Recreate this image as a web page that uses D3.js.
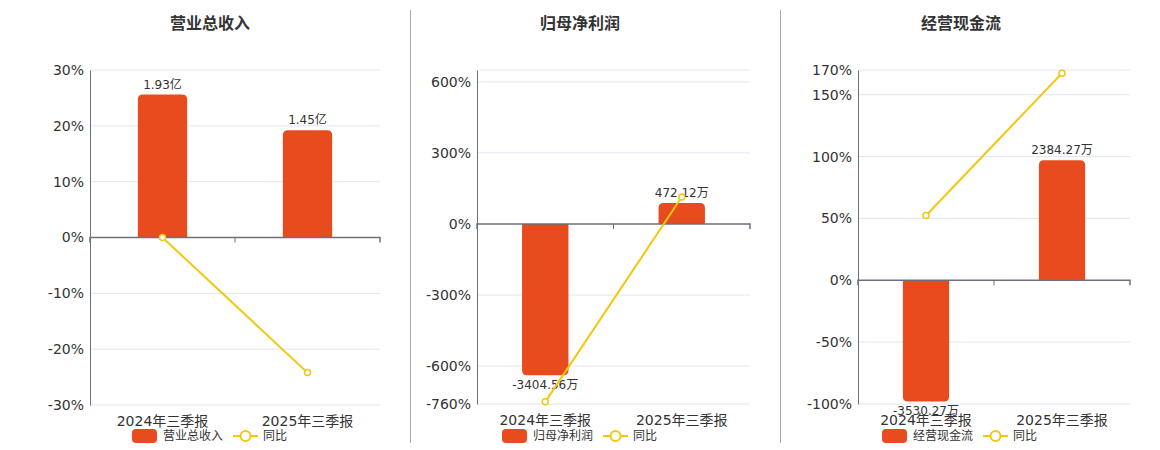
<!DOCTYPE html>
<html>
<head>
<meta charset="utf-8">
<script src="https://cdn.jsdelivr.net/npm/d3@7"></script>
<style>
  body { margin: 0; background: #fff; }
  svg text { font-family: "DejaVu Sans", "Noto Sans CJK SC", sans-serif; }
</style>
</head>
<body>
<div id="chart"></div>
<script>
/* DATA */
const categories = ["2024年三季报", "2025年三季报"];
const titles = ["营业总收入", "归母净利润", "经营现金流"];

// bars (revenue in 亿, the others in 万) and year-on-year %
const revenue = [1.93, 1.45];
const revenueYoY = [0, -24.2];
const profit = [-3404.56, 472.12];
const profitYoY = [-751, 113.9];
const cashflow = [-3530.27, 2384.27];
const cashflowYoY = [52.4, 167.4];

const units = ["亿", "万", "万"];

// y axis ticks of each panel
const ticks1 = [-30, -20, -10, 0, 10, 20, 30];
const ticks2 = [-760, -600, -300, 0, 300, 600];
const ticks3 = [-100, -50, 0, 50, 100, 150, 170];

/* CONSTANTS */
const width = 1160, height = 450;
const barColor = "#e84c1e", lineColor = "#f2c80f";
const gridColor = "#e0e6f1", axisColor = "#6e7079", textColor = "#333";

const svg = d3.select("#chart").append("svg")
  .attr("width", width)
  .attr("height", height);

// panel layout: plot box, y domain, hidden bar domain (min, 0, max)
const panels = [
  { title: titles[0], bars: revenue, yoy: revenueYoY, unit: units[0], ticks: ticks1,
    yDomain: [-30, 30], barDomain: [-2.262, 0, 2.262],
    left: 90, right: 380, top: 70, bottom: 405, titleX: 210, legendX: 132 },
  { title: titles[1], bars: profit, yoy: profitYoY, unit: units[1], ticks: ticks2,
    yDomain: [-760, 650], barDomain: [-4053, 0, 3467],
    left: 477, right: 750, top: 70, bottom: 404, titleX: 580, legendX: 502 },
  { title: titles[2], bars: cashflow, yoy: cashflowYoY, unit: units[2], ticks: ticks3,
    yDomain: [-100, 170], barDomain: [-3606, 0, 4179],
    left: 858, right: 1130, top: 70, bottom: 404, titleX: 961, legendX: 882 }
];

// dividers between panels
svg.selectAll("line.divider")
  .data([410.5, 780.5])
  .join("line")
  .attr("class", "divider")
  .attr("x1", d => d).attr("x2", d => d)
  .attr("y1", 10).attr("y2", 443)
  .attr("stroke", "#aaa")
  .attr("stroke-width", 1);

// bar path with rounded outer end
function barPath(x, w, y0, y1, r) {
  const up = y1 < y0;
  const h = Math.abs(y1 - y0);
  r = Math.min(r, h / 2, w / 2);
  if (up) {
    return `M${x},${y0}V${y1 + r}Q${x},${y1} ${x + r},${y1}H${x + w - r}Q${x + w},${y1} ${x + w},${y1 + r}V${y0}Z`;
  }
  return `M${x},${y0}V${y1 - r}Q${x},${y1} ${x + r},${y1}H${x + w - r}Q${x + w},${y1} ${x + w},${y1 - r}V${y0}Z`;
}

panels.forEach(p => {
  const g = svg.append("g");

  const xScale = d3.scaleBand()
    .domain(categories)
    .range([p.left, p.right]);

  const yScale = d3.scaleLinear()
    .domain(p.yDomain)
    .range([p.bottom, p.top]);

  const barScale = d3.scaleLinear()
    .domain(p.barDomain)
    .range([yScale(p.yDomain[0]), yScale(0), yScale(p.yDomain[1])]);

  // title
  g.append("text")
    .attr("x", p.titleX)
    .attr("y", 29)
    .attr("text-anchor", "middle")
    .style("font-size", "16px")
    .style("font-weight", "bold")
    .style("fill", textColor)
    .text(p.title);

  // gridlines
  const gridVals = p.ticks.concat(p.ticks.includes(p.yDomain[1]) ? [] : [p.yDomain[1]]);
  g.selectAll("line.grid")
    .data(gridVals.filter(d => d !== 0))
    .join("line")
    .attr("class", "grid")
    .attr("x1", p.left).attr("x2", p.right)
    .attr("y1", d => yScale(d)).attr("y2", d => yScale(d))
    .attr("stroke", gridColor);

  // y axis
  const yAxis = d3.axisLeft(yScale)
    .tickValues(p.ticks)
    .tickSize(0)
    .tickPadding(6)
    .tickFormat(d => d + "%");

  const yAxisGroup = g.append("g")
    .attr("transform", `translate(${p.left},0)`)
    .call(yAxis);
  yAxisGroup.select(".domain").attr("stroke", axisColor);
  yAxisGroup.selectAll("text")
    .style("font-size", "14px")
    .style("fill", textColor);

  // bars
  const bw = xScale.bandwidth() * 0.34;
  g.selectAll("path.bar")
    .data(p.bars)
    .join("path")
    .attr("class", "bar")
    .attr("fill", barColor)
    .attr("d", (d, i) => barPath(
      xScale(categories[i]) + (xScale.bandwidth() - bw) / 2, bw,
      barScale(0), barScale(d), 5));

  // bar labels
  g.selectAll("text.barlabel")
    .data(p.bars)
    .join("text")
    .attr("class", "barlabel")
    .attr("x", (d, i) => xScale(categories[i]) + xScale.bandwidth() / 2)
    .attr("y", d => d >= 0 ? barScale(d) - 6 : barScale(d) + 14)
    .attr("text-anchor", "middle")
    .style("font-size", "12px")
    .style("fill", textColor)
    .text(d => d + p.unit);

  // x axis on zero line
  const xAxis = d3.axisBottom(xScale)
    .tickSize(5)
    .tickFormat("");
  const xAxisGroup = g.append("g")
    .attr("transform", `translate(0,${yScale(0)})`)
    .call(xAxis);
  xAxisGroup.select(".domain")
    .attr("stroke", axisColor)
    .attr("stroke-width", 1.5)
    .attr("d", `M${p.left},5V0H${p.right}V5`);
  xAxisGroup.selectAll(".tick").remove();
  xAxisGroup.selectAll("line.edge")
    .data([(p.left + p.right) / 2])
    .join("line")
    .attr("class", "edge")
    .attr("x1", d => d).attr("x2", d => d)
    .attr("y1", 0).attr("y2", 5)
    .attr("stroke", axisColor);

  // category labels
  g.selectAll("text.cat")
    .data(categories)
    .join("text")
    .attr("class", "cat")
    .attr("x", d => xScale(d) + xScale.bandwidth() / 2)
    .attr("y", p.bottom + 21)
    .attr("text-anchor", "middle")
    .style("font-size", "14px")
    .style("fill", textColor)
    .text(d => d);

  // yoy line
  const line = d3.line()
    .x((d, i) => xScale(categories[i]) + xScale.bandwidth() / 2)
    .y(d => yScale(d));

  g.append("path")
    .datum(p.yoy)
    .attr("fill", "none")
    .attr("stroke", lineColor)
    .attr("stroke-width", 2)
    .attr("d", line);

  g.selectAll("circle.pt")
    .data(p.yoy)
    .join("circle")
    .attr("class", "pt")
    .attr("cx", (d, i) => xScale(categories[i]) + xScale.bandwidth() / 2)
    .attr("cy", d => yScale(d))
    .attr("r", 3)
    .attr("fill", "#fff")
    .attr("stroke", lineColor)
    .attr("stroke-width", 1.5);

  // legend
  const lg = g.append("g").attr("transform", `translate(${p.legendX},436)`);
  lg.append("rect")
    .attr("x", 0).attr("y", -7)
    .attr("width", 25).attr("height", 14)
    .attr("rx", 4)
    .attr("fill", barColor);
  const lt = lg.append("text")
    .attr("x", 31).attr("y", 0)
    .attr("dominant-baseline", "central")
    .style("font-size", "12px")
    .style("fill", textColor)
    .text(p.title);
  const tw = lt.node().getComputedTextLength();
  const lx = 31 + tw + 10;
  lg.append("line")
    .attr("x1", lx).attr("x2", lx + 25)
    .attr("y1", 0).attr("y2", 0)
    .attr("stroke", lineColor)
    .attr("stroke-width", 2);
  lg.append("circle")
    .attr("cx", lx + 12.5).attr("cy", 0)
    .attr("r", 5)
    .attr("fill", "#fff")
    .attr("stroke", lineColor)
    .attr("stroke-width", 2);
  lg.append("text")
    .attr("x", lx + 30).attr("y", 0)
    .attr("dominant-baseline", "central")
    .style("font-size", "12px")
    .style("fill", textColor)
    .text("同比");
});
</script>
</body>
</html>
